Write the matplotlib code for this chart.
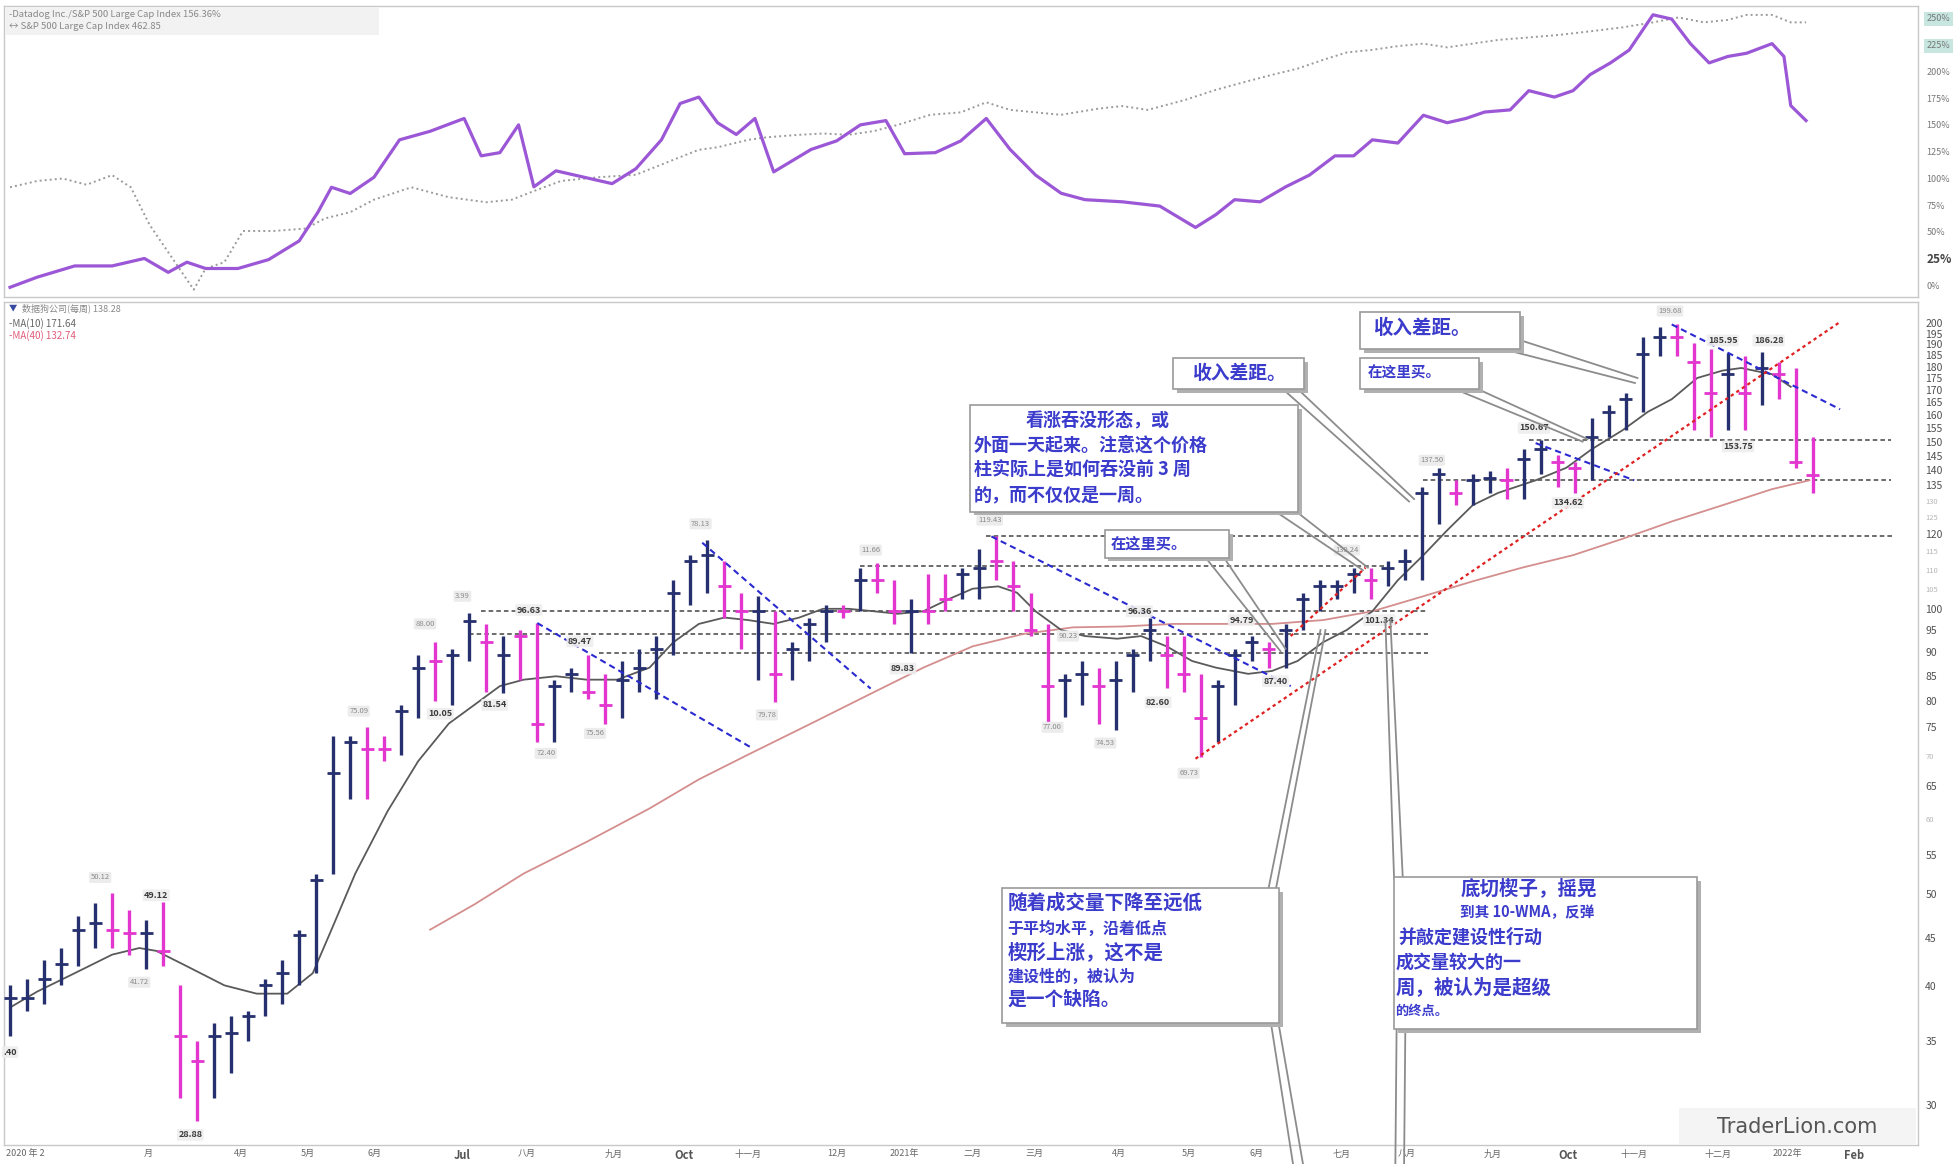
import matplotlib
matplotlib.use("Agg")
import matplotlib.pyplot as plt
from matplotlib.patches import Rectangle
from matplotlib.lines import Line2D
from matplotlib.ticker import FixedLocator, NullLocator, NullFormatter

plt.rcParams['font.family'] = ['Noto Sans CJK SC', 'DejaVu Sans']

# ---------------- data (weekly bars, index 0 = first week shown) ----------------
bar_high = [40.1, 40.7, 42.6, 43.9, 47.4, 49.0, 50.12, 48.1, 47.0, 49.12,
            40.1, 35.0, 36.6, 37.2, 37.7, 40.7, 42.6, 45.9, 52.6, 73.4,
            73.4, 75.09, 73.4, 79.2, 89.4, 92.2, 90.8, 98.99, 96.4, 93.6,
            95.0, 96.63, 84.2, 86.7, 89.47, 85.4, 88.1, 90.8, 93.6, 107.2,
            113.9, 118.13, 112.2, 104.0, 103.1, 99.4, 92.2, 97.9, 100.9, 100.9,
            110.5, 111.66, 107.2, 102.4, 108.8, 108.8, 110.5, 115.6, 119.43, 112.2,
            104.0, 96.4, 85.4, 88.1, 86.7, 88.1, 90.8, 97.9, 93.6, 93.6,
            85.4, 84.2, 90.8, 93.6, 92.2, 96.4, 104.0, 107.2, 107.2, 110.5,
            110.5, 112.2, 115.6, 134.5, 140.8, 136.6, 138.7, 139.6, 140.8, 147.3,
            150.67, 145.1, 142.9, 158.9, 163.8, 168.9, 193.4, 198.1, 199.68, 190.6,
            187.7, 185.95, 184.7, 186.28, 182.1, 179.4, 151.8]
bar_low = [35.5, 37.7, 38.3, 40.1, 42.0, 43.9, 43.9, 43.2, 41.72, 42.0,
           30.5, 28.88, 30.5, 32.4, 35.0, 37.2, 38.3, 40.1, 41.3, 52.6,
           63.1, 63.1, 69.1, 70.2, 76.8, 80.05, 79.2, 88.1, 81.7, 81.54,
           84.2, 72.40, 72.3, 81.7, 80.4, 75.56, 76.8, 81.7, 80.4, 89.4,
           100.9, 104.0, 97.9, 90.8, 84.2, 79.78, 84.2, 88.1, 92.2, 97.9,
           99.4, 104.0, 96.4, 89.83, 96.4, 99.4, 102.4, 102.4, 107.2, 99.4,
           93.6, 75.7, 77.0, 79.2, 75.7, 74.53, 81.7, 88.1, 82.60, 81.7,
           69.73, 72.3, 79.2, 88.1, 86.7, 86.7, 95.0, 99.4, 102.4, 104.0,
           102.4, 105.6, 107.2, 107.2, 122.9, 128.6, 128.6, 132.5, 130.5, 130.5,
           138.7, 134.5, 132.5, 136.6, 151.8, 154.2, 161.3, 184.7, 184.7, 154.2,
           151.8, 154.2, 154.2, 163.8, 166.3, 140.8, 132.5]
bar_close = [38.9, 38.9, 40.7, 42.2, 45.9, 46.6, 45.9, 45.5, 45.5, 43.6,
             35.5, 33.4, 35.5, 35.7, 37.2, 40.1, 41.3, 45.3, 51.8, 67.1,
             72.3, 71.2, 71.2, 78.0, 86.7, 88.1, 89.4, 97.0, 92.2, 89.4,
             93.6, 75.7, 82.9, 85.4, 81.7, 79.2, 84.2, 86.7, 90.8, 104.0,
             112.2, 113.9, 105.6, 99.4, 99.4, 85.4, 90.8, 96.4, 99.4, 99.4,
             107.2, 107.2, 99.4, 99.4, 99.4, 102.4, 108.8, 110.5, 112.2, 105.6,
             95.0, 82.9, 84.2, 85.4, 82.9, 84.2, 89.4, 95.0, 89.4, 85.4,
             76.8, 82.9, 89.4, 92.2, 90.8, 95.0, 102.4, 105.6, 105.6, 108.8,
             107.2, 110.5, 112.2, 132.5, 138.7, 132.5, 136.6, 137.4, 136.6, 143.8,
             147.3, 142.9, 140.8, 151.8, 161.3, 166.3, 185.8, 193.4, 193.4, 182.1,
             168.9, 176.7, 168.9, 179.4, 176.7, 142.9, 138.28]
bar_up = [1, 1, 1, 1, 1, 1, 0, 0, 1, 0,
          0, 0, 1, 1, 1, 1, 1, 1, 1, 1,
          1, 0, 0, 1, 1, 0, 1, 1, 0, 1,
          0, 0, 1, 1, 0, 0, 1, 1, 1, 1,
          1, 1, 0, 0, 1, 0, 1, 1, 1, 0,
          1, 0, 0, 1, 0, 0, 1, 1, 0, 0,
          0, 0, 1, 1, 0, 1, 1, 1, 0, 0,
          0, 1, 1, 1, 0, 1, 1, 1, 1, 1,
          0, 1, 1, 1, 1, 0, 1, 1, 0, 1,
          1, 0, 0, 1, 1, 1, 1, 1, 0, 0,
          0, 1, 0, 1, 0, 0, 0]

ma10_x = [0, 1.6, 3.8, 6.0, 7.6, 8.6, 10.4, 12.6, 14.5, 16.3, 17.8, 18.9, 20.3, 22.2,
          24.0, 25.8, 27.3, 28.8, 30.2, 32.1, 33.9, 35.7, 37.6, 39.0, 40.5, 42.0,
          43.4, 44.9, 46.4, 47.8, 49.3, 50.8, 52.2, 53.7, 55.2, 56.6, 58.1, 59.2,
          60.3, 61.8, 63.2, 65.1, 66.5, 68.0, 69.5, 70.9, 72.8, 74.2, 75.7, 77.2,
          78.6, 80.1, 81.6, 83.1, 84.5, 86.0, 87.5, 89.7, 91.5, 93.0, 94.8, 96.3,
          97.7, 99.2, 100.7, 101.8, 102.9, 103.6, 104.7]
ma10_v = [38.0, 39.5, 41.3, 43.2, 43.9, 43.6, 42.0, 40.1, 39.3, 39.3, 41.3, 45.9, 52.6,
          61.2, 69.1, 75.7, 79.2, 82.9, 84.2, 84.9, 84.2, 84.2, 86.7, 92.2, 96.4,
          97.9, 97.3, 96.4, 97.9, 100.0, 100.0, 99.4, 98.8, 99.4, 102.4, 105.0, 105.6,
          104.0, 99.4, 95.0, 93.6, 93.0, 93.6, 91.3, 88.1, 86.7, 85.4, 86.0, 88.1,
          92.2, 95.0, 99.4, 107.2, 113.9, 121.0, 128.6, 132.5, 136.6, 140.8, 147.3,
          154.2, 161.3, 166.3, 175.1, 178.3, 179.4, 177.7, 176.7, 171.4]
ma40_x = [24.7, 27.3, 30.2, 33.9, 37.6, 40.5, 43.4, 47.1, 50.8, 53.7, 56.6, 59.6, 62.5,
          65.4, 68.4, 71.3, 74.2, 77.2, 80.1, 83.1, 86.0, 88.9, 91.9, 94.8, 97.7,
          100.7, 103.6, 105.8]
ma40_v = [45.9, 48.8, 52.6, 56.8, 61.6, 66.1, 70.2, 75.7, 81.7, 86.7, 91.3, 94.1, 95.6,
          95.8, 96.4, 96.4, 96.4, 97.3, 99.4, 103.1, 106.9, 110.5, 113.9, 118.5, 123.6,
          128.6, 133.7, 136.6]

# relative strength line (Datadog / S&P 500), percent
rs_x = [0, 1.6, 3.8, 6.0, 7.9, 9.3, 10.4, 11.5, 13.4, 15.2, 17.0, 18.1, 18.9, 20.0,
        21.4, 22.9, 24.7, 26.7, 27.7, 28.8, 29.9, 30.8, 32.1, 33.2, 35.4, 36.8, 38.3,
        39.4, 40.5, 41.6, 42.7, 43.8, 44.9, 47.1, 48.6, 50.0, 51.5, 52.6, 54.4, 55.9,
        57.4, 58.8, 60.3, 61.8, 63.2, 65.4, 67.6, 69.7, 70.9, 72.0, 73.5, 75.0, 76.4,
        77.9, 79.0, 80.1, 81.6, 83.1, 84.5, 85.6, 86.7, 88.2, 89.3, 90.8, 91.9, 92.9,
        94.1, 95.2, 96.6, 97.7, 98.8, 99.9, 101.0, 102.1, 103.6, 104.3, 104.7, 105.6]
rs_v = [-2, 7.5, 18, 18, 25, 12, 21.5, 15.6, 15.6, 23.9, 41.4, 68.2, 91.6, 85.8,
        101, 136, 144, 156, 121, 124, 150, 92, 107, 103, 95, 109, 136,
        170, 176, 152, 141, 156, 106, 127, 135, 150, 154, 123, 124, 135,
        156, 127, 103, 86, 80, 78, 74, 54, 66, 80, 78, 92, 103,
        121, 121, 136, 133, 159, 152, 156, 162, 164, 182, 176, 182, 197,
        208, 220, 253, 249, 226, 208, 214, 217, 226, 214, 168, 154]
# S&P 500 Large Cap Index line (dotted)
spx_x = [0, 1.6, 3.1, 4.5, 6.0, 7.1, 8.2, 9.7, 10.8, 11.5, 12.6, 13.7, 15.5, 17.4,
         18.5, 20.0, 21.4, 23.6, 25.8, 28.0, 29.5, 31.0, 32.4, 34.6, 36.8, 39.0,
         40.5, 41.6, 43.4, 44.5, 46.4, 47.8, 49.3, 50.8, 52.2, 54.1, 55.9, 57.4,
         58.8, 60.3, 61.8, 64.0, 65.4, 66.9, 69.1, 70.9, 72.8, 74.2, 75.7, 77.2,
         78.6, 80.1, 81.6, 83.1, 84.5, 86.0, 87.5, 89.3, 91.1, 93.0, 94.8, 96.6,
         98.1, 99.6, 101.0, 102.1, 103.6, 104.7, 105.6]
spx_v = [91.6, 97.5, 99.8, 94, 103, 91.6, 56.6, 21.5, -4.2, 15.6, 21.5, 50.7, 50.7, 53,
         62.4, 68.3, 80, 91.6, 82.3, 77.6, 80, 89.3, 97.5, 101, 103.3, 117.3,
         126.7, 129, 136, 138.4, 140.7, 141.9, 140.7, 144.2, 150, 159.4, 161.7, 171.1,
         164, 161.7, 159.4, 165.2, 167.6, 164, 173.4, 182.8, 191, 196.8, 202.6, 210.8,
         217.8, 220.2, 223.7, 226, 222.5, 226, 229.5, 231.8, 234.2, 237.7, 241.2, 245.9,
         250.5, 245.9, 248.2, 252.9, 252.9, 245.9, 245.9]

price_ticks = [200, 195, 190, 185, 180, 175, 170, 165, 160, 155, 150, 145, 140, 135,
               130, 125, 120, 115, 110, 105, 100, 95, 90, 85, 80, 75, 70, 65, 60, 55,
               50, 45, 40, 35, 30]
faded_ticks = [130, 125, 115, 110, 105, 70, 60]
pct_ticks = [0, 25, 50, 75, 100, 125, 150, 175, 200, 225, 250]

month_pos = [0.9, 8.1, 13.6, 17.5, 21.4, 26.6, 30.4, 35.5, 39.6, 43.4, 48.6, 52.6,
             56.6, 60.2, 65.2, 69.3, 73.3, 78.3, 82.1, 87.2, 91.6, 95.5, 100.4, 104.5, 108.4]
month_labels = ["2020 年 2", "月", "4月", "5月", "6月", "Jul", "八月", "九月", "Oct", "十一月",
                "12月", "2021年", "二月", "三月", "4月", "5月", "6月", "七月", "八月", "九月",
                "Oct", "十一月", "十二月", "2022年", "Feb"]

# horizontal dotted support/resistance levels: (price, start, end)
level_price = [119.2, 111.0, 99.4, 94.1, 89.9, 150.67, 136.6]
level_start = [57.4, 50.0, 27.7, 27.0, 34.6, 89.3, 83.1]
level_end = [110.8, 80.9, 83.4, 83.4, 83.4, 110.6, 110.6]

# trend lines (index, price) pairs
blue_lines = [((31.0, 96.6), (43.7, 71.2)), ((40.7, 117.4), (50.6, 82.4)),
              ((57.7, 119.2), (75.3, 82.9)), ((89.7, 149.5), (95.5, 136.6)),
              ((97.7, 199.4), (107.6, 162.3))]
red_lines = [((69.7, 69.5), (107.6, 200.6)), ((75.3, 93.6), (79.7, 110.5))]

# price labels: (text, index, price, dark)
price_labels = [
    (".40", 0.0, 34.1, True), ("50.12", 5.3, 52.1, False), ("41.72", 7.6, 40.4, False),
    ("49.12", 8.6, 49.9, True), ("28.88", 10.6, 27.9, True), ("75.09", 20.5, 78.0, False),
    ("88.00", 24.4, 96.4, False), ("10.05", 25.3, 77.5, True), ("3.99", 26.6, 103.1, False),
    ("81.54", 28.5, 79.2, True), ("96.63", 30.5, 99.7, True), ("72.40", 31.5, 70.4, False),
    ("89.47", 33.5, 92.4, True), ("75.56", 34.4, 73.9, False), ("78.13", 40.6, 122.9, False),
    ("79.78", 44.5, 77.3, False), ("11.66", 50.6, 115.3, False), ("89.83", 52.5, 86.5, True),
    ("119.43", 57.6, 124.0, False), ("77.00", 61.3, 75.0, False), ("90.23", 62.2, 93.6, False),
    ("74.53", 64.4, 72.2, False), ("96.36", 66.4, 99.4, True), ("82.60", 67.5, 79.7, True),
    ("69.73", 69.3, 67.1, False), ("94.79", 72.4, 97.3, True), ("87.40", 74.4, 83.9, True),
    ("130.24", 78.6, 115.3, False), ("101.34", 80.5, 97.3, True), ("137.50", 83.6, 143.4, False),
    ("150.67", 89.6, 155.1, True), ("134.62", 91.6, 129.3, True), ("199.68", 97.6, 206.0, False),
    ("185.95", 100.7, 191.8, True), ("186.28", 103.4, 191.8, True), ("153.75", 101.6, 148.3, True),
]

NAVY = '#27306f'
MAGENTA = '#e236cf'
BLUE_TXT = '#3b3bcc'

# ---------------- figure ----------------
fig = plt.figure(figsize=(19.57, 11.64), dpi=100)


def fxy(xs, ys):
    """reference layout (1568x933 grid) -> figure fraction"""
    return xs / 1568.0, 1 - ys / 933.0


ax_top = fig.add_axes([3 / 1568, 1 - 238 / 933, 1534 / 1568, 233 / 933])
ax_bot = fig.add_axes([3 / 1568, 1 - 918 / 933, 1534 / 1568, 676 / 933])

XMIN, XMAX = -0.37, 112.2
for ax in (ax_top, ax_bot):
    ax.set_xlim(XMIN, XMAX)
    for s in ax.spines.values():
        s.set_color('#c8c8c8')
        s.set_linewidth(1.0)

# ---- top panel ----
ax_top.plot(spx_x, spx_v, color='#9a9a9a', lw=1.4, ls=(0, (1, 1.6)))
ax_top.plot(rs_x, rs_v, color='#9b57d6', lw=2.3)
ax_top.set_ylim(-11, 261)
ax_top.yaxis.tick_right()
ax_top.set_yticks(pct_ticks)
ax_top.set_yticklabels([f"{t}%" for t in pct_ticks])
ax_top.tick_params(axis='y', length=0, labelsize=6.5, labelcolor='#777777', pad=6)
ax_top.set_xticks([])
for lab, t in zip(ax_top.get_yticklabels(), pct_ticks):
    if t in (250, 225):
        lab.set_bbox(dict(boxstyle='square,pad=0.3', fc='#c6e6df', ec='none'))
    if t == 25:
        lab.set_fontsize(8.5)
        lab.set_color('#444444')
        lab.set_fontweight('bold')

fig.add_artist(Rectangle(fxy(4, 28), 300 / 1568, 22 / 933, transform=fig.transFigure,
                         fc='#f2f2f2', ec='none', zorder=2))
fig.text(*fxy(7, 12), "-Datadog Inc./S&P 500 Large Cap Index 156.36%", fontsize=6.8,
         color='#888888', va='center', zorder=3)
fig.text(*fxy(7, 21), "\u2194 S&P 500 Large Cap Index 462.85", fontsize=6.8,
         color='#888888', va='center', zorder=3)

# ---- bottom panel ----
ax_bot.set_yscale('log')
ax_bot.set_ylim(27.2, 210.6)
ax_bot.yaxis.tick_right()
ax_bot.yaxis.set_major_locator(FixedLocator(price_ticks))
ax_bot.yaxis.set_minor_locator(NullLocator())
ax_bot.yaxis.set_minor_formatter(NullFormatter())
ax_bot.set_yticklabels([str(t) for t in price_ticks])
ax_bot.tick_params(axis='y', length=0, labelsize=7.5, labelcolor='#505050', pad=5)
for lab, t in zip(ax_bot.get_yticklabels(), price_ticks):
    if t in faded_ticks:
        lab.set_color('#b5b5b5')
        lab.set_fontsize(5.5)

ax_bot.set_xticks(month_pos)
ax_bot.set_xticklabels(month_labels)
ax_bot.tick_params(axis='x', length=0, labelsize=6.5, labelcolor='#666666', pad=3)
for lab in ax_bot.get_xticklabels():
    if lab.get_text() in ("Jul", "Oct", "Feb"):
        lab.set_fontweight('bold')
        lab.set_fontsize(8)
        lab.set_color('#555555')

# levels
for p, a, b in zip(level_price, level_start, level_end):
    ax_bot.hlines(p, a, b, color='#444444', lw=1.1, ls=(0, (3, 2)), zorder=2)

# moving averages
ax_bot.plot(ma40_x, ma40_v, color='#d48e8e', lw=1.3, zorder=3)
ax_bot.plot(ma10_x, ma10_v, color='#5a5a5a', lw=1.3, zorder=3)

# weekly bars
for i, (h, l, c, u) in enumerate(zip(bar_high, bar_low, bar_close, bar_up)):
    col = NAVY if u else MAGENTA
    ax_bot.vlines(i, l, h, color=col, lw=2.4, zorder=4)
    ax_bot.hlines(c, i - 0.38, i + 0.38, color=col, lw=2.0, zorder=4)

# trend lines
for (a, b) in blue_lines:
    ax_bot.plot([a[0], b[0]], [a[1], b[1]], color='#2a2ad0', lw=1.5, ls=(0, (3, 2)), zorder=5)
for (a, b) in red_lines:
    ax_bot.plot([a[0], b[0]], [a[1], b[1]], color='#e02020', lw=1.6, ls=(0, (1.5, 1.5)), zorder=5)

# price labels
for txt, xi, p, dark in price_labels:
    if dark:
        ax_bot.text(xi, p, txt, fontsize=6.5, color='#3a3a3a', ha='center', va='center',
                    fontweight='bold', zorder=6,
                    bbox=dict(boxstyle='round,pad=0.15', fc='#eeeeee', ec='none', alpha=0.9))
    else:
        ax_bot.text(xi, p, txt, fontsize=5.5, color='#8a8a8a', ha='center', va='center',
                    zorder=6, bbox=dict(boxstyle='round,pad=0.2', fc='#ececec', ec='none'))

# legend of bottom panel
fig.text(*fxy(7, 247), "\u25bc", fontsize=6, color='#3a4aa0', va='center', zorder=3)
fig.text(*fxy(18, 247), "数据狗公司(每周) 138.28", fontsize=6.5, color='#888888', va='center', zorder=3)
fig.text(*fxy(7, 259), "-MA(10) 171.64", fontsize=7, color='#666666', va='center', zorder=3)
fig.text(*fxy(7, 269), "-MA(40) 132.74", fontsize=7, color='#e05c7a', va='center', zorder=3)


# ---------------- annotation boxes ----------------
def callout(pts_list):
    for (x0, y0, x1, y1) in pts_list:
        a = fxy(x0, y0)
        b = fxy(x1, y1)
        fig.add_artist(Line2D([a[0], b[0]], [a[1], b[1]], transform=fig.transFigure,
                              color='#8c8c8c', lw=1.3, zorder=7))


def box(x0, y0, x1, y1):
    sx, sy = fxy(x0 + 3, y1 + 3)
    fig.add_artist(Rectangle((sx, sy), (x1 - x0) / 1568, (y1 - y0) / 933,
                             transform=fig.transFigure, fc='#b0b0b0', ec='none', zorder=8))
    bx, by = fxy(x0, y1)
    fig.add_artist(Rectangle((bx, by), (x1 - x0) / 1568, (y1 - y0) / 933,
                             transform=fig.transFigure, fc='white', ec='#9a9a9a', lw=1.2, zorder=9))


def btext(x, y, s, size, ha='left'):
    fig.text(*fxy(x, y), s, fontsize=size, color=BLUE_TXT, ha=ha, va='center',
             fontweight='bold', zorder=10)


# callout lines first (under boxes)
callout([(1205, 280, 1310, 307), (1216, 272, 1312, 303),
         (1180, 310, 1272, 352), (1166, 312, 1268, 354),
         (1040, 312, 1133, 400), (1028, 312, 1129, 402),
         (1036, 408, 1096, 455), (1022, 410, 1092, 457),
         (980, 446, 1030, 520), (966, 447, 1026, 522),
         (1022, 714, 1062, 505), (1016, 714, 1058, 505),
         (1024, 818, 1044, 933), (1018, 818, 1036, 933),
         (1117, 705, 1110, 497), (1124, 705, 1114, 497),
         (1119, 823, 1118, 933), (1126, 823, 1125, 933)])

box(1090, 250, 1218, 280)
btext(1100, 263, "收入差距。", 14)
box(1090, 287, 1185, 312)
btext(1096, 299, "在这里买。", 10.5)
box(940, 287, 1045, 312)
btext(955, 299, "收入差距。", 13.5)

box(777, 325, 1040, 410)
btext(822, 337, "看涨吞没形态，或", 13)
btext(780, 357, "外面一天起来。注意这个价格", 13)
btext(780, 377, "柱实际上是如何吞没前 3 周", 13)
btext(780, 397, "的，而不仅仅是一周。", 13)

box(885, 425, 985, 447)
btext(890, 436, "在这里买。", 11)

box(803, 712, 1025, 820)
btext(807, 724, "随着成交量下降至远低", 14)
btext(807, 744, "于平均水平，沿着低点", 11.5)
btext(807, 763, "楔形上涨，这不是", 14)
btext(807, 783, "建设性的，被认为", 11.5)
btext(807, 801, "是一个缺陷。", 13.5)

box(1117, 703, 1360, 825)
btext(1170, 712, "底切楔子，摇晃", 14)
btext(1170, 731, "到其 10-WMA，反弹", 10.5)
btext(1120, 751, "并敲定建设性行动", 13)
btext(1118, 771, "成交量较大的一", 13)
btext(1118, 791, "周，被认为是超级", 14)
btext(1118, 810, "的终点。", 9.5)

# watermark
fig.add_artist(Rectangle(fxy(1345, 918), 190 / 1568, 30 / 933, transform=fig.transFigure,
                         fc='#f4f4f4', ec='none', zorder=8))
fig.text(*fxy(1440, 903), "TraderLion.com", fontsize=15, color='#555555', ha='center',
         va='center', family=['Liberation Sans Narrow', 'DejaVu Sans'], zorder=10)

fig.savefig("out.png", dpi=100)
